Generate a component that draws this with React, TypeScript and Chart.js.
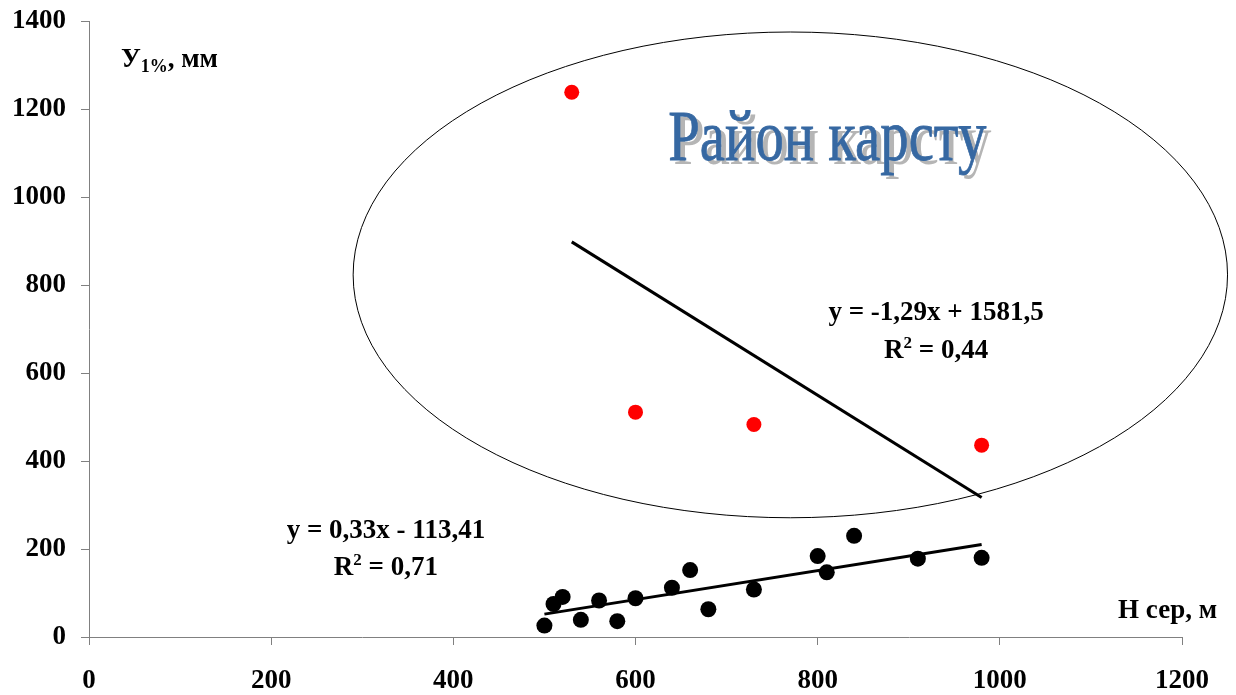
import React, { useEffect, useRef } from 'react';
import { Chart, registerables } from 'chart.js';

Chart.register(...registerables);

// ---- data ----
const xTickValues = [0, 200, 400, 600, 800, 1000, 1200];
const yTickValues = [0, 200, 400, 600, 800, 1000, 1200, 1400];

const regionX = [500, 510, 520, 540, 560, 580, 600, 640, 660, 680, 730, 800, 810, 840, 910, 980];
const regionY = [26, 75, 91, 39, 83, 36, 88, 112, 152, 63, 108, 184, 147, 230, 178, 180];

const karstX = [530, 600, 730, 980];
const karstY = [1238, 511, 483, 436];

const regionTrendX = [500, 980];
const regionTrendY = [52, 210];

const karstTrendX = [530, 980];
const karstTrendY = [898, 317];

const regionEquation = ['y = 0,33x - 113,41', '0,71'];
const karstEquation = ['y = -1,29x + 1581,5', '0,44'];
const karstTitle = 'Район карсту';
const yTitle = ['У', '1%', ', мм'];
const xTitle = 'Н сер, м';

const FONT = '"Liberation Serif", "Times New Roman", serif';

type Run = { text: string; size: number; dy: number };

function drawRuns(ctx: CanvasRenderingContext2D, runs: Run[], x: number, y: number, align: 'center' | 'left' | 'right') {
  let total = 0;
  const widths = runs.map((r) => {
    ctx.font = `bold ${r.size}px ${FONT}`;
    const w = ctx.measureText(r.text).width;
    total += w;
    return w;
  });
  let cx = align === 'center' ? x - total / 2 : align === 'right' ? x - total : x;
  ctx.textAlign = 'left';
  ctx.textBaseline = 'alphabetic';
  runs.forEach((r, i) => {
    ctx.font = `bold ${r.size}px ${FONT}`;
    ctx.fillText(r.text, cx, y + r.dy);
    cx += widths[i];
  });
}

const overlayPlugin = {
  id: 'overlay',
  afterDatasetsDraw(chart: any) {
    const { ctx, scales } = chart;
    const xs = scales.x;
    const ys = scales.y;
    const px = (v: number) => xs.getPixelForValue(v);
    const py = (v: number) => ys.getPixelForValue(v);
    ctx.save();

    // ellipse (karst region)
    const cx = px(770);
    const cy = py(823);
    const rx = px(770 + 480) - cx;
    const ry = cy - py(823 + 552);
    ctx.beginPath();
    ctx.ellipse(cx, cy, rx, ry, 0, 0, Math.PI * 2);
    ctx.strokeStyle = '#000';
    ctx.lineWidth = 1;
    ctx.stroke();

    // title "Район карсту"
    ctx.font = `72px ${FONT}`;
    const tw = ctx.measureText(karstTitle).width;
    const sx = 318 / tw;
    const tx = px(636);
    const ty = py(1084);
    ctx.textAlign = 'left';
    ctx.textBaseline = 'alphabetic';
    ctx.save();
    ctx.translate(tx, ty);
    ctx.scale(sx, 1);
    ctx.fillStyle = '#b5b5b5';
    ctx.fillText(karstTitle, 5 / sx, 4);
    ctx.fillStyle = '#3668a2';
    ctx.strokeStyle = '#3668a2';
    ctx.lineWidth = 0.8;
    ctx.fillText(karstTitle, 0, 0);
    ctx.strokeText(karstTitle, 0, 0);
    ctx.restore();

    ctx.fillStyle = '#000';
    const S = 27;
    const SUP = 17;
    // equations
    drawRuns(ctx, [{ text: regionEquation[0], size: S, dy: 0 }], px(326), py(245) + 9, 'center');
    drawRuns(
      ctx,
      [
        { text: 'R', size: S, dy: 0 },
        { text: '2', size: SUP, dy: -10 },
        { text: ' = ' + regionEquation[1], size: S, dy: 0 },
      ],
      px(326),
      py(161) + 9,
      'center'
    );
    drawRuns(ctx, [{ text: karstEquation[0], size: S, dy: 0 }], px(930), py(741) + 9, 'center');
    drawRuns(
      ctx,
      [
        { text: 'R', size: S, dy: 0 },
        { text: '2', size: SUP, dy: -10 },
        { text: ' = ' + karstEquation[1], size: S, dy: 0 },
      ],
      px(930),
      py(655) + 9,
      'center'
    );

    // axis titles
    drawRuns(
      ctx,
      [
        { text: yTitle[0], size: S, dy: 0 },
        { text: yTitle[1], size: 18, dy: 5 },
        { text: yTitle[2], size: S, dy: 0 },
      ],
      px(35),
      py(1295),
      'left'
    );
    drawRuns(ctx, [{ text: xTitle, size: S, dy: 0 }], px(1238.5), py(43), 'right');

    ctx.restore();
  },
};

export default function App() {
  const canvasRef = useRef<HTMLCanvasElement | null>(null);

  useEffect(() => {
    document.body.style.margin = '0';
    const canvas = canvasRef.current;
    if (!canvas) return;

    const pts = (xs: number[], ys: number[]) => xs.map((x, i) => ({ x, y: ys[i] }));

    const tickFont = { family: FONT, size: 27, weight: 'bold' as const };
    const fmt = (v: any) => String(v);

    const chart = new Chart(canvas, {
      type: 'scatter',
      data: {
        datasets: [
          {
            label: 'trend region',
            data: pts(regionTrendX, regionTrendY),
            showLine: true,
            borderColor: '#000',
            borderWidth: 3,
            pointRadius: 0,
          },
          {
            label: 'trend karst',
            data: pts(karstTrendX, karstTrendY),
            showLine: true,
            borderColor: '#000',
            borderWidth: 3,
            pointRadius: 0,
          },
          {
            label: 'region',
            data: pts(regionX, regionY),
            backgroundColor: '#000',
            borderColor: '#000',
            pointRadius: 8,
            borderWidth: 0,
          },
          {
            label: 'karst',
            data: pts(karstX, karstY),
            backgroundColor: '#ff0000',
            borderColor: '#ff0000',
            pointRadius: 7.5,
            borderWidth: 0,
          },
        ],
      },
      options: {
        responsive: false,
        animation: false,
        layout: { padding: { left: 0, right: 54, top: 21, bottom: 0 } },
        plugins: {
          legend: { display: false },
          tooltip: { enabled: false },
        },
        scales: {
          x: {
            type: 'linear',
            min: 0,
            max: 1200,
            afterBuildTicks: (axis: any) => {
              axis.ticks = xTickValues.map((v) => ({ value: v }));
            },
            afterFit: (axis: any) => {
              axis.height = 58;
              axis.paddingLeft = 0;
              axis.paddingRight = 0;
            },
            ticks: { font: tickFont, color: '#000', padding: 20, callback: fmt },
            grid: { drawOnChartArea: false, drawTicks: true, tickLength: 8, color: '#808080' },
            border: { display: true, color: '#808080', width: 1 },
          },
          y: {
            type: 'linear',
            min: 0,
            max: 1400,
            afterBuildTicks: (axis: any) => {
              axis.ticks = yTickValues.map((v) => ({ value: v }));
            },
            afterFit: (axis: any) => {
              axis.width = 89;
              axis.paddingTop = 0;
              axis.paddingBottom = 0;
            },
            ticks: { font: tickFont, color: '#000', padding: 15, callback: fmt },
            grid: { drawOnChartArea: false, drawTicks: true, tickLength: 8, color: '#808080' },
            border: { display: true, color: '#808080', width: 1 },
          },
        },
      },
      plugins: [overlayPlugin],
    });

    return () => chart.destroy();
  }, []);

  return (
    <div style={{ position: 'absolute', left: 0, top: 0, width: 1236, height: 695, background: '#fff' }}>
      <canvas ref={canvasRef} width={1236} height={695} style={{ display: 'block' }} />
    </div>
  );
}
